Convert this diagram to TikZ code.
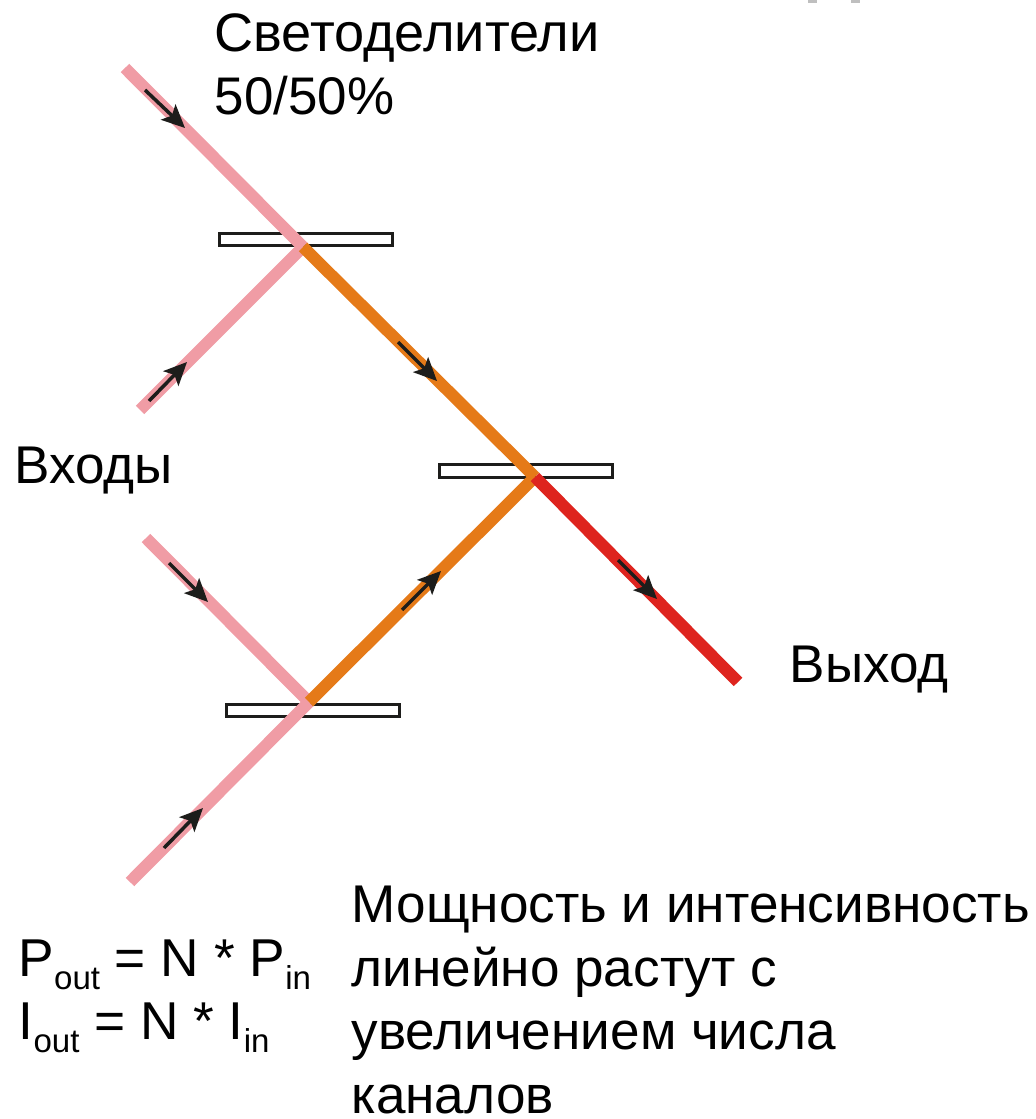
\documentclass[tikz,border=0pt]{standalone}
\usepackage{fontspec}
\setmainfont{Liberation Sans}
\usetikzlibrary{arrows.meta, positioning, calc}
\definecolor{beampink}{HTML}{F09CA5}
\definecolor{beamorange}{HTML}{E57A18}
\definecolor{beamred}{HTML}{DE241E}
\definecolor{tipdark}{HTML}{1D1D1B}
\newcommand{\lowsub}[1]{\raisebox{-0.25em}{\fontsize{9.4}{11}\selectfont #1}}
\tikzset{
  beam/.style={line width=1.2mm},
  flow/.style={-{Stealth[length=2.3mm,width=2.1mm,inset=0.5mm]}, tipdark, line width=0.35mm},
  splitter/.style={draw=tipdark, fill=white, line width=0.3mm, minimum width=1.72cm, minimum height=0.12cm, inner sep=0pt},
  label/.style={anchor=base west, inner sep=0pt, font=\fontsize{15.1}{18.05}\selectfont, align=left},
  formula/.style={anchor=base west, inner sep=0pt, font=\fontsize{15.15}{18}\selectfont}
}
\begin{document}
\begin{tikzpicture}[x=0.01cm, y=-0.01cm]
  \useasboundingbox (0,0) rectangle (1035,1119);

  % stray marks at the top edge
  \fill[gray!50] (808,0) rectangle (817,3);
  \fill[gray!50] (851,0) rectangle (860,3);

  % splitters
  \node[splitter] (splitA) at (306,240) {};
  \node[splitter] (splitB) at (526,471) {};
  \node[splitter] (splitC) at (313,710) {};

  % beam ends
  \coordinate (inA) at (125,68);
  \coordinate (inB) at (140,410);
  \coordinate (inC) at (146,538);
  \coordinate (inD) at (130,882);
  \coordinate (crossA) at (303,247);
  \coordinate (crossB) at (535,477);
  \coordinate (crossC) at (309,702);
  \coordinate (out) at (738,682);

  % beams
  \draw[beam, beampink] (inA) -- (crossA);
  \draw[beam, beampink] (inB) -- (crossA);
  \draw[beam, beampink] (inC) -- (crossC);
  \draw[beam, beampink] (inD) -- (crossC);
  \draw[beam, beamorange] (crossA) -- (crossB);
  \draw[beam, beamorange] (crossC) -- (crossB);
  \draw[beam, beamred] (crossB) -- (out);

  % direction arrows
  \coordinate (arrA) at (145,90);   \coordinate (tipA) at (185,128);
  \coordinate (arrB) at (149,401);  \coordinate (tipB) at (187,362);
  \coordinate (arrC) at (398,342);  \coordinate (tipC) at (437,381);
  \coordinate (arrD) at (169,563);  \coordinate (tipD) at (208,602);
  \coordinate (arrE) at (402,610);  \coordinate (tipE) at (441,571);
  \coordinate (arrF) at (618,560);  \coordinate (tipF) at (657,599);
  \coordinate (arrG) at (164,848);  \coordinate (tipG) at (203,808);
  \foreach \a/\b in {arrA/tipA, arrB/tipB, arrC/tipC, arrD/tipD, arrE/tipE, arrF/tipF, arrG/tipG}
    \draw[flow] (\a) -- (\b);

  % labels
  \node[label] (title) at (214,115) {\fontsize{15.4}{18.2}\selectfont Светоделители\\\fontsize{15.05}{18.2}\selectfont 50/50\%};
  \node[label] (inputs) at (14,483) {Входы};
  \node[label] (output) at (789,682) {Выход};
  \node[label] (note) at (351,1113) {Мощность и интенсивность\\линейно растут с\\увеличением числа\\каналов};

  % formulas
  \node[formula] (power) at (18,976) {P\lowsub{out} = N * P\lowsub{in}};
  \node[formula] (intensity) at (18,1039) {I\lowsub{out} = N * I\lowsub{in}};
\end{tikzpicture}
\end{document}
